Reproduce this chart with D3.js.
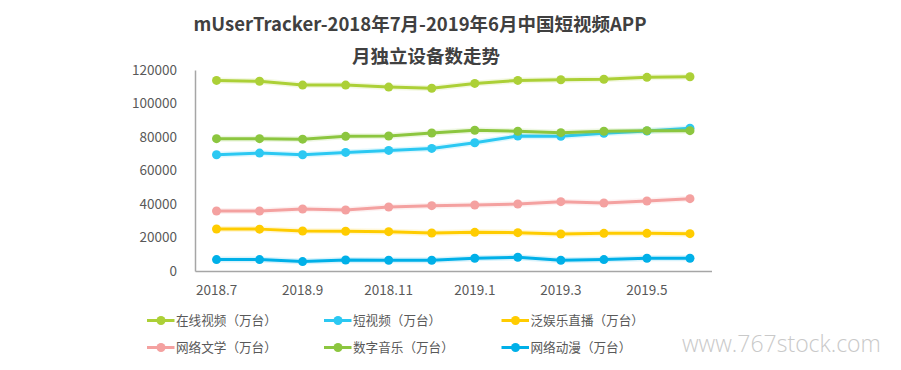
<!DOCTYPE html>
<html lang="zh">
<meta charset="utf-8">
<head>
    <script src="https://d3js.org/d3.v7.min.js"></script>
    <style>
        body { margin: 0; background: #fff; }
        text { font-family: "Noto Sans CJK SC", "Noto Sans", sans-serif; }
    </style>
</head>
<body>
<script>

// months on the x axis
var months = ["2018.7", "2018.8", "2018.9", "2018.10", "2018.11", "2018.12",
              "2019.1", "2019.2", "2019.3", "2019.4", "2019.5", "2019.6"]
var shownMonths = ["2018.7", "2018.9", "2018.11", "2019.1", "2019.3", "2019.5"]
var yTicks = [0, 20000, 40000, 60000, 80000, 100000, 120000]

// monthly active devices (万台)
var online  = [113800, 113300, 111000, 111000, 109800, 109100, 112000, 113800, 114200, 114500, 115600, 116000]
var shortv  = [69400, 70400, 69400, 70800, 72000, 73200, 76600, 80600, 80400, 82200, 83600, 85200]
var live    = [25100, 25000, 23900, 23700, 23500, 22700, 23100, 22900, 22100, 22500, 22500, 22300]
var novel   = [35800, 35800, 37000, 36400, 38200, 39000, 39400, 40000, 41400, 40600, 41800, 43200]
var music   = [79000, 79000, 78700, 80400, 80600, 82400, 84000, 83400, 82600, 83400, 83800, 83800]
var anime   = [6800, 6800, 5600, 6600, 6400, 6400, 7600, 8200, 6400, 6800, 7600, 7600]

var names  = ["在线视频（万台）", "短视频（万台）", "泛娱乐直播（万台）",
              "网络文学（万台）", "数字音乐（万台）", "网络动漫（万台）"]
var colors = ["#acd037", "#2bc8f2", "#ffcc00", "#f4a1a0", "#8cc63f", "#00b0e8"]
var series = [online, shortv, live, novel, music, anime]

var width = 901, height = 370

var svg = d3.select("body")
    .append("svg")
    .attr("width", width)
    .attr("height", height)

// scales
var x = d3.scaleBand()
    .domain(months)
    .range([195, 711.5])
    .padding(0)

var y = d3.scaleLinear()
    .domain([0, 120000])
    .range([271, 70])

function cx(m) { return x(m) + x.bandwidth() / 2 }

// title
svg.append("text")
    .attr("x", 420)
    .attr("y", 31)
    .attr("text-anchor", "middle")
    .style("font-size", "18.5px")
    .style("font-weight", "bold")
    .style("fill", "#404040")
    .text("mUserTracker-2018年7月-2019年6月中国短视频APP")

svg.append("text")
    .attr("x", 426)
    .attr("y", 63)
    .attr("text-anchor", "middle")
    .style("font-size", "18.5px")
    .style("font-weight", "bold")
    .style("fill", "#404040")
    .text("月独立设备数走势")

// y axis
var yAxis = svg.append("g")
    .attr("transform", "translate(195,0)")
    .call(d3.axisLeft(y).tickValues(yTicks).tickSize(0).tickPadding(18).tickFormat(d3.format("d")))
yAxis.select(".domain").attr("stroke", "#a6a6a6").attr("stroke-width", 1.5)
yAxis.selectAll("text")
    .style("font-size", "13.5px")
    .style("fill", "#595959")

// x axis
var xAxis = svg.append("g")
    .attr("transform", "translate(0,271)")
    .call(d3.axisBottom(x).tickValues(shownMonths).tickSize(0).tickPadding(14))
xAxis.select(".domain").attr("stroke", "#a6a6a6").attr("stroke-width", 1.5)
xAxis.selectAll("text")
    .style("font-size", "13.5px")
    .style("fill", "#595959")

// lines + markers
var line = d3.line()
    .x(function(d, i) { return cx(months[i]) })
    .y(function(d) { return y(d) })

for (var s = 0; s < series.length; s++) {
    svg.append("path")
        .datum(series[s])
        .attr("fill", "none")
        .attr("stroke", colors[s])
        .attr("stroke-opacity", 0.15)
        .attr("stroke-width", 6)
        .attr("d", line)
    svg.append("path")
        .datum(series[s])
        .attr("fill", "none")
        .attr("stroke", colors[s])
        .attr("stroke-width", 3)
        .attr("d", line)
    svg.selectAll(".dot" + s)
        .data(series[s])
        .enter()
        .append("circle")
        .attr("class", "dot" + s)
        .attr("cx", function(d, i) { return cx(months[i]) })
        .attr("cy", function(d) { return y(d) })
        .attr("r", 4.5)
        .attr("fill", colors[s])
}

// legend
var legX = [147, 324, 501.5]
var legY = [320.5, 347.5]
for (var k = 0; k < names.length; k++) {
    var lx = legX[k % 3], ly = legY[Math.floor(k / 3)]
    var g = svg.append("g").attr("transform", "translate(" + lx + "," + ly + ")")
    g.append("line")
        .attr("x1", 0).attr("x2", 27.5)
        .attr("y1", 0).attr("y2", 0)
        .attr("stroke", colors[k])
        .attr("stroke-width", 3)
    g.append("circle")
        .attr("cx", 14).attr("cy", 0).attr("r", 4.5)
        .attr("fill", colors[k])
    g.append("text")
        .attr("x", 29)
        .attr("y", 0)
        .attr("dy", "0.35em")
        .style("font-size", "12.6px")
        .style("fill", "#595959")
        .text(names[k])
}

// watermark
svg.append("text")
    .attr("x", 682)
    .attr("y", 352)
    .style("font-family", "'Open Sans', sans-serif")
    .style("font-weight", 300)
    .style("font-size", "23px")
    .style("fill", "#c9c9c9")
    .text("www.767stock.com")

</script>
</body>
</html>
